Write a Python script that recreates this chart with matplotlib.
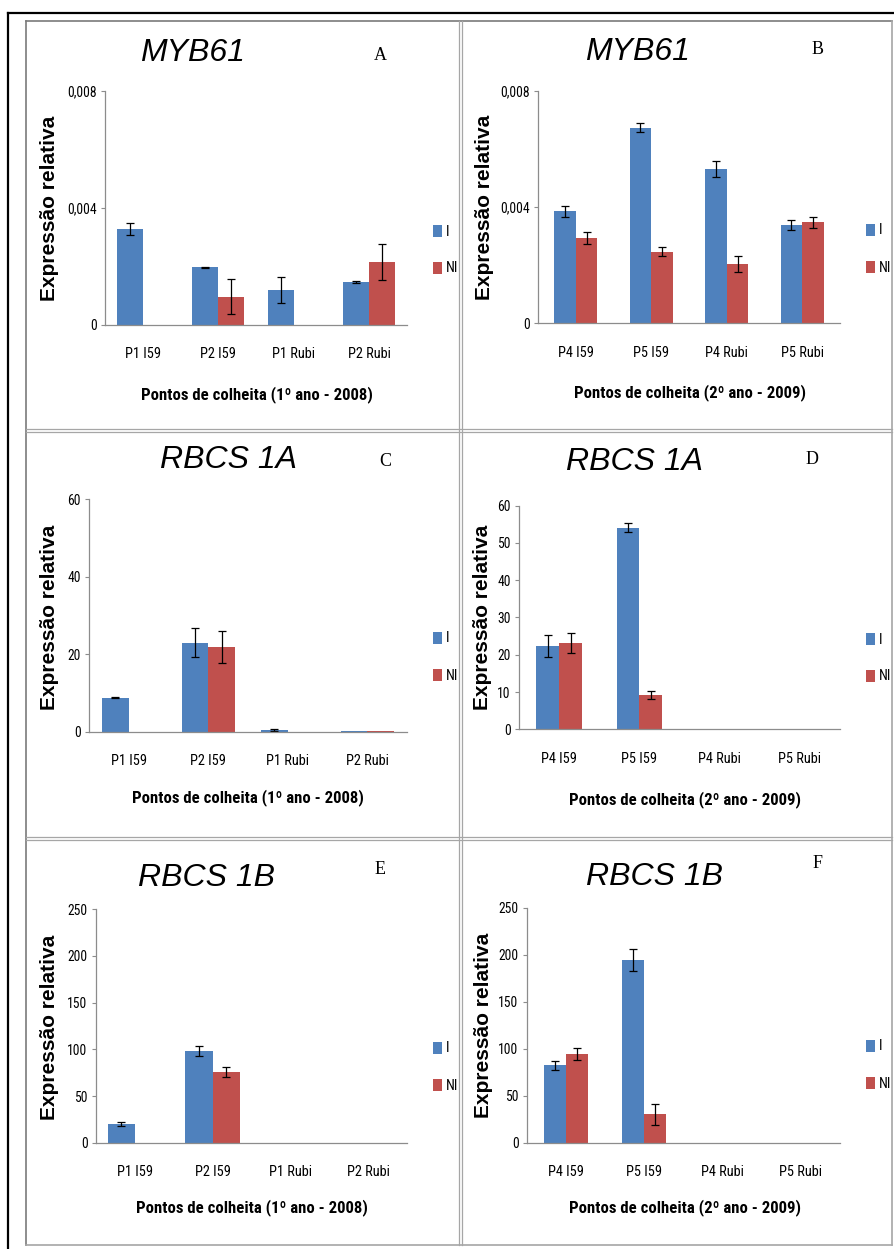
import numpy as np
import matplotlib.pyplot as plt
from matplotlib import font_manager
from matplotlib.lines import Line2D

W, H = 894, 1249
BLUE = '#4f81bd'
RED = '#c0504d'

# condensed face if one is there, else Arial-like
_names = {f.name for f in font_manager.fontManager.ttflist}
NARROW = next((n for n in ('Liberation Sans Narrow', 'Roboto Condensed', 'Open Sans Condensed')
               if n in _names), 'Liberation Sans')
IS_NARROW = NARROW != 'Liberation Sans'
K = 1.15 if IS_NARROW else 1.0

cats_2008 = ['P1 I59', 'P2 I59', 'P1 Rubi', 'P2 Rubi']
cats_2009 = ['P4 I59', 'P5 I59', 'P4 Rubi', 'P5 Rubi']

# MYB61
myb_08_i = [0.00327, 0.00197, 0.00120, 0.00148]
myb_08_i_err = [0.00021, 0.00002, 0.00045, 0.00003]
myb_08_ni = [0.0, 0.00097, 0.0, 0.00216]
myb_08_ni_err = [0.0, 0.00060, 0.0, 0.00062]
myb_09_i = [0.00386, 0.00673, 0.00531, 0.00338]
myb_09_i_err = [0.00019, 0.00015, 0.00027, 0.00017]
myb_09_ni = [0.00294, 0.00246, 0.00203, 0.00347]
myb_09_ni_err = [0.00020, 0.00015, 0.00027, 0.00020]

# RBCS 1A
r1a_08_i = [8.8, 23.0, 0.5, 0.3]
r1a_08_i_err = [0.2, 3.7, 0.3, 0.0]
r1a_08_ni = [0.0, 21.8, 0.0, 0.3]
r1a_08_ni_err = [0.0, 4.1, 0.0, 0.0]
r1a_09_i = [22.4, 54.1, 0.0, 0.0]
r1a_09_i_err = [2.9, 1.2, 0.0, 0.0]
r1a_09_ni = [23.2, 9.2, 0.0, 0.0]
r1a_09_ni_err = [2.7, 1.0, 0.0, 0.0]

# RBCS 1B
r1b_08_i = [20.0, 98.2, 0.0, 0.0]
r1b_08_i_err = [2.0, 5.0, 0.0, 0.0]
r1b_08_ni = [0.0, 75.7, 0.0, 0.0]
r1b_08_ni_err = [0.0, 5.0, 0.0, 0.0]
r1b_09_i = [82.3, 194.3, 0.0, 0.0]
r1b_09_i_err = [4.7, 11.5, 0.0, 0.0]
r1b_09_ni = [94.3, 30.2, 0.0, 0.0]
r1b_09_ni_err = [6.0, 11.3, 0.0, 0.0]

ticks_myb = [0, 0.004, 0.008]
ticks_1a_08 = [0, 20, 40, 60]
ticks_1a_09 = [0, 10, 20, 30, 40, 50, 60]
ticks_1b = [0, 50, 100, 150, 200, 250]

xlab_08 = 'Pontos de colheita (1º ano - 2008)'
xlab_09 = 'Pontos de colheita (2º ano - 2009)'

panels = [
    dict(gene='MYB61', letter='A', cats=cats_2008, xlab=xlab_08,
         i=myb_08_i, ie=myb_08_i_err, ni=myb_08_ni, nie=myb_08_ni_err, ticks=ticks_myb,
         box=(105, 407, 91, 325), bw=0.345, tpos=(192, 53), lpos=(380, 55),
         ypos=(50, 208), xpos=(257, 395), leg=(426, 250)),
    dict(gene='MYB61', letter='B', cats=cats_2009, xlab=xlab_09,
         i=myb_09_i, ie=myb_09_i_err, ni=myb_09_ni, nie=myb_09_ni_err, ticks=ticks_myb,
         box=(538, 840, 90.7, 323.3), bw=0.287, tpos=(637, 52), lpos=(818, 50),
         ypos=(485, 207), xpos=(690, 393), leg=(859, 249)),
    dict(gene='RBCS 1A', letter='C', cats=cats_2008, xlab=xlab_08,
         i=r1a_08_i, ie=r1a_08_i_err, ni=r1a_08_ni, nie=r1a_08_ni_err, ticks=ticks_1a_08,
         box=(89, 407, 499.3, 731.7), bw=0.335, tpos=(228, 460), lpos=(385, 462),
         ypos=(50, 617), xpos=(248, 798), leg=(426, 657)),
    dict(gene='RBCS 1A', letter='D', cats=cats_2009, xlab=xlab_09,
         i=r1a_09_i, ie=r1a_09_i_err, ni=r1a_09_ni, nie=r1a_09_ni_err, ticks=ticks_1a_09,
         box=(519, 840, 505.7, 729.3), bw=0.285, tpos=(635, 462), lpos=(812, 460),
         ypos=(482, 617), xpos=(685, 800), leg=(859, 658)),
    dict(gene='RBCS 1B', letter='E', cats=cats_2008, xlab=xlab_08,
         i=r1b_08_i, ie=r1b_08_i_err, ni=r1b_08_ni, nie=r1b_08_ni_err, ticks=ticks_1b,
         box=(96, 407, 909.3, 1142.7), bw=0.35, tpos=(207, 878), lpos=(380, 870),
         ypos=(50, 1027), xpos=(252, 1208), leg=(426, 1067)),
    dict(gene='RBCS 1B', letter='F', cats=cats_2009, xlab=xlab_09,
         i=r1b_09_i, ie=r1b_09_i_err, ni=r1b_09_ni, nie=r1b_09_ni_err, ticks=ticks_1b,
         box=(527, 840, 907.7, 1142.7), bw=0.28, tpos=(655, 877), lpos=(818, 863),
         ypos=(483, 1025), xpos=(685, 1208), leg=(859, 1065)),
]


def fx(x):
    return x / W


def fy(y):
    return 1 - y / H


def fmt_tick(v):
    return f'{v:g}'.replace('.', ',')


fig = plt.figure(figsize=(W / 100, H / 100), dpi=100)


def line(x0, y0, x1, y1, color, lw):
    fig.add_artist(Line2D([fx(x0), fx(x1)], [fy(y0), fy(y1)], color=color, lw=lw,
                          transform=fig.transFigure))


# table frame: black outer lines and grey cell borders
line(7.5, 13, 7.5, 1249, 'black', 1.6)
line(7.5, 13, 894, 13, 'black', 1.6)
grey = '#a6a6a6'
line(26, 21, 892, 21, '#7a7a7a', 1.2)
line(26, 21, 26, 1245, '#7a7a7a', 1.2)
line(892, 21, 892, 1245, grey, 1.2)
line(26, 1245, 892, 1245, grey, 1.2)
for off in (0, 3):
    line(459 + off, 21, 459 + off, 1245, grey, 0.9)
    line(26, 428.5 + off, 892, 428.5 + off, grey, 0.9)
    line(26, 836.5 + off, 892, 836.5 + off, grey, 0.9)

for p in panels:
    x0, x1, yt, yb = p['box']
    ax = fig.add_axes([fx(x0), fy(yb), (x1 - x0) / W, (yb - yt) / H])
    x = np.arange(len(p['cats']))
    bw = p['bw']
    vi, ei = np.array(p['i']), np.array(p['ie'])
    vn, en = np.array(p['ni']), np.array(p['nie'])
    ax.bar(x - bw / 2, vi, bw, color=BLUE, label='I')
    ax.bar(x + bw / 2, vn, bw, color=RED, label='NI')
    for xs, v, e in ((x - bw / 2, vi, ei), (x + bw / 2, vn, en)):
        m = e > 0
        ax.errorbar(xs[m], v[m], yerr=e[m], fmt='none', ecolor='black',
                    elinewidth=0.9, capsize=2.6, capthick=0.9)
    ax.set_xlim(-0.5, len(x) - 0.5)
    ax.set_ylim(0, p['ticks'][-1])
    ax.set_yticks(p['ticks'])
    ax.set_yticklabels([fmt_tick(t) for t in p['ticks']], family=NARROW, fontsize=8.5 * K)
    ax.set_xticks(x)
    ax.set_xticklabels(p['cats'], family=NARROW, fontsize=9 * K)
    ax.tick_params(axis='x', length=0, pad=16)
    ax.tick_params(axis='y', length=3, width=0.8, color='#8c8c8c', pad=3)
    for s in ('top', 'right'):
        ax.spines[s].set_visible(False)
    for s in ('left', 'bottom'):
        ax.spines[s].set_color('#8c8c8c')
        ax.spines[s].set_linewidth(0.9)

    ax.legend(loc='center left', bbox_to_anchor=(fx(p['leg'][0]), fy(p['leg'][1])),
              bbox_transform=fig.transFigure, frameon=False, borderpad=0,
              handlelength=0.6, handleheight=0.9, handletextpad=0.3,
              labelspacing=1.6, prop={'family': NARROW, 'size': 9 * K})

    fig.text(fx(p['tpos'][0]), fy(p['tpos'][1]), p['gene'], family='Liberation Sans',
             style='italic', fontsize=23, ha='center', va='center')
    fig.text(fx(p['lpos'][0]), fy(p['lpos'][1]), p['letter'], family='Liberation Serif',
             fontsize=13, ha='center', va='center')
    fig.text(fx(p['ypos'][0]), fy(p['ypos'][1]), 'Expressão relativa', family='Liberation Sans',
             weight='bold', fontsize=15, rotation=90, ha='center', va='center')
    fig.text(fx(p['xpos'][0]), fy(p['xpos'][1]), p['xlab'], family=NARROW,
             weight='bold', fontsize=10.5 * K, ha='center', va='center')

fig.savefig('out.png', dpi=100)
